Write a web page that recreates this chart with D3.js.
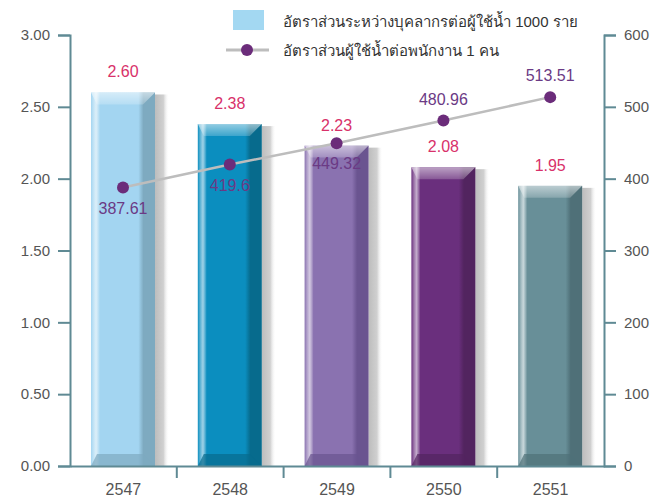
<!DOCTYPE html>
<html>
<head>
<meta charset="utf-8">
<script src="https://cdn.jsdelivr.net/npm/d3@7"></script>
<style>
  body { margin: 0; background: #fff; }
  text { font-family: "Liberation Sans", Arial, sans-serif; }
</style>
</head>
<body>
<div id="chart"></div>
<script>
// data
var years = ["2547", "2548", "2549", "2550", "2551"];
var staffRatio = [2.60, 2.38, 2.23, 2.08, 1.95];
var usersPerStaff = [387.61, 419.6, 449.32, 480.96, 513.51];
var leftTicks = [0, 0.5, 1, 1.5, 2, 2.5, 3];
var rightTicks = [0, 100, 200, 300, 400, 500, 600];
var barLegend = "อัตราส่วนระหว่างบุคลากรต่อผู้ใช้น้ำ 1000 ราย";
var lineLegend = "อัตราส่วนผู้ใช้น้ำต่อพนักงาน 1 คน";

// bar colours: face, dark side, light top
var barColors = [
    { face: "#a3d5f1", side: "#7eaac0", top: "#c4e4f5" },
    { face: "#0b8ebf", side: "#076b8d", top: "#5db3d6" },
    { face: "#8a72b0", side: "#6a5490", top: "#b4a3cc" },
    { face: "#6a2f7d", side: "#52245f", top: "#9a72a8" },
    { face: "#688f98", side: "#4f7078", top: "#a2bcc2" }
];

const W = 670, H = 504;
const plotL = 70, plotR = 604, plotT = 35, plotB = 466;
const axisColor = "#5f8a94";

let svg = d3.select('#chart').append('svg')
    .attr('width', W)
    .attr('height', H);

let x = d3.scaleBand().domain(years).range([plotL, plotR]);
let yL = d3.scaleLinear().domain([0, 3]).range([plotB, plotT]);
let yR = d3.scaleLinear().domain([0, 600]).range([plotB, plotT]);

// gradients for bars
let defs = svg.append('defs');
barColors.forEach(function (c, i) {
    let g = defs.append('linearGradient').attr('id', 'face' + i)
        .attr('x1', 0).attr('x2', 1).attr('y1', 0).attr('y2', 0);
    g.append('stop').attr('offset', '0%').attr('stop-color', c.face);
    g.append('stop').attr('offset', '8%').attr('stop-color', c.top).attr('stop-opacity', 0.6);
    g.append('stop').attr('offset', '14%').attr('stop-color', c.face);
    g.append('stop').attr('offset', '74%').attr('stop-color', c.face);
    g.append('stop').attr('offset', '82%').attr('stop-color', c.side);
    g.append('stop').attr('offset', '100%').attr('stop-color', c.side);
});
let sh = defs.append('linearGradient').attr('id', 'shadow')
    .attr('x1', 0).attr('x2', 1).attr('y1', 0).attr('y2', 0);
sh.append('stop').attr('offset', '0%').attr('stop-color', '#bdbdbd');
sh.append('stop').attr('offset', '60%').attr('stop-color', '#d0d0d0');
sh.append('stop').attr('offset', '100%').attr('stop-color', '#ffffff').attr('stop-opacity', 0);
let tg = defs.append('linearGradient').attr('id', 'topshine')
    .attr('x1', 0).attr('x2', 0).attr('y1', 0).attr('y2', 1);
tg.append('stop').attr('offset', '0%').attr('stop-color', '#fff').attr('stop-opacity', 0.55);
tg.append('stop').attr('offset', '100%').attr('stop-color', '#fff').attr('stop-opacity', 0.2);

const barOff = 21, barW = 64;

// bars
let bars = svg.append('g').attr('class', 'bars')
    .selectAll('g').data(years).enter().append('g');

// shadow
bars.append('rect')
    .attr('x', (d, i) => x(d) + barOff + barW)
    .attr('y', (d, i) => yL(staffRatio[i]) + 2)
    .attr('width', 14)
    .attr('height', (d, i) => plotB - yL(staffRatio[i]) - 2)
    .style('fill', 'url(#shadow)');

bars.append('rect')
    .attr('x', d => x(d) + barOff)
    .attr('y', (d, i) => yL(staffRatio[i]))
    .attr('width', barW)
    .attr('height', (d, i) => plotB - yL(staffRatio[i]))
    .style('fill', (d, i) => 'url(#face' + i + ')');

// top bevel
bars.append('path')
    .attr('d', function (d, i) {
        let x0 = x(d) + barOff, y0 = yL(staffRatio[i]);
        return 'M' + x0 + ',' + y0 + 'h' + barW + 'l-12,12h' + (-(barW - 18)) + 'z';
    })
    .style('fill', 'url(#topshine)');

// bottom bevel
bars.append('path')
    .attr('d', function (d, i) {
        let x0 = x(d) + barOff;
        return 'M' + x0 + ',' + plotB + 'h' + barW + 'l-12,-12h' + (-(barW - 18)) + 'z';
    })
    .style('fill', (d, i) => barColors[i].side)
    .style('opacity', 0.7);

// bar value labels
bars.append('text')
    .attr('x', d => x(d) + barOff + barW / 2)
    .attr('y', (d, i) => yL(staffRatio[i]) - 15)
    .attr('text-anchor', 'middle')
    .style('font-size', '16px')
    .style('fill', '#d8316a')
    .text((d, i) => staffRatio[i].toFixed(2));

// line
let cx = d => x(d) + barOff + barW / 2;
let line = d3.line()
    .x((d, i) => cx(years[i]))
    .y(d => yR(d));

svg.append('path')
    .datum(usersPerStaff)
    .attr('d', line)
    .style('fill', 'none')
    .style('stroke', '#bdbdbd')
    .style('stroke-width', 2.5);

svg.append('g').selectAll('circle').data(usersPerStaff).enter().append('circle')
    .attr('cx', (d, i) => cx(years[i]))
    .attr('cy', d => yR(d))
    .attr('r', 6)
    .style('fill', '#6b2c7a');

svg.append('g').selectAll('text').data(usersPerStaff).enter().append('text')
    .attr('x', (d, i) => cx(years[i]))
    .attr('y', (d, i) => i < 3 ? yR(d) + 26 : yR(d) - 16)
    .attr('text-anchor', 'middle')
    .style('font-size', '16px')
    .style('fill', '#6b3a85')
    .text(d => d);

// axes
function styleAxis(g) {
    g.selectAll('path, line').style('stroke', axisColor).style('stroke-width', 2);
    g.selectAll('text').style('font-size', '15px').style('fill', '#555');
}

let axL = svg.append('g')
    .attr('transform', 'translate(' + plotL + ',0)')
    .call(d3.axisLeft(yL).tickValues(leftTicks).tickFormat(d3.format('.2f')).tickSizeOuter(0).tickSize(12).tickPadding(8));
styleAxis(axL);

let axR = svg.append('g')
    .attr('transform', 'translate(' + plotR + ',0)')
    .call(d3.axisRight(yR).tickValues(rightTicks).tickSizeOuter(0).tickSize(12).tickPadding(8));
styleAxis(axR);

let axB = svg.append('g')
    .attr('transform', 'translate(0,' + plotB + ')')
    .call(d3.axisBottom(x).tickSize(0).tickPadding(10));
styleAxis(axB);
axB.selectAll('text').attr('dy', '1.2em').style('font-size', '16px');
// separators between categories
axB.selectAll('line.sep').data(years.slice(1)).enter().append('line')
    .attr('class', 'sep')
    .attr('x1', d => x(d)).attr('x2', d => x(d))
    .attr('y1', 0).attr('y2', 12)
    .style('stroke', axisColor).style('stroke-width', 2);

// legend
let lg = svg.append('g').attr('class', 'legend');
lg.append('rect')
    .attr('x', 233).attr('y', 10).attr('width', 31).attr('height', 20)
    .style('fill', '#a3d8f2');
lg.append('text')
    .attr('x', 283).attr('y', 27)
    .style('font-size', '15px').style('fill', '#333')
    .text(barLegend);
lg.append('line')
    .attr('x1', 226).attr('x2', 269).attr('y1', 50).attr('y2', 50)
    .style('stroke', '#bdbdbd').style('stroke-width', 3);
lg.append('circle')
    .attr('cx', 247).attr('cy', 50).attr('r', 6)
    .style('fill', '#6b2c7a');
lg.append('text')
    .attr('x', 283).attr('y', 56)
    .style('font-size', '15px').style('fill', '#333')
    .text(lineLegend);
</script>
</body>
</html>
